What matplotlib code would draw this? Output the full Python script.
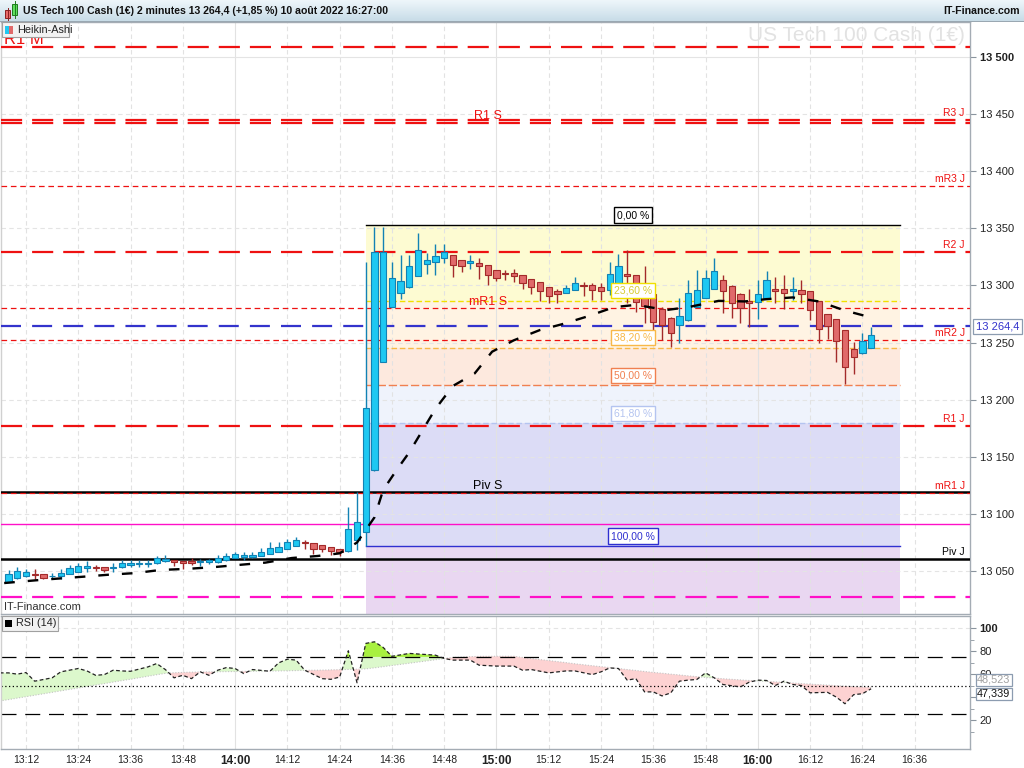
import numpy as np
import matplotlib
matplotlib.use("Agg")
import matplotlib.pyplot as plt
from matplotlib.patches import Rectangle

plt.rcParams['font.family'] = ['Liberation Sans', 'DejaVu Sans']


def mins(s):
    # minutes after 13:00
    h, m = s.split(':')
    return (int(h) - 13) * 60 + int(m)


# ---- Heikin-Ashi candles, 2 minute bars from 13:08 ----
first_bar = "13:08"
bar_step = 2
ha_open = [13040.7, 13043.6, 13045.9, 13047.1, 13047.1, 13045.5, 13045.9, 13047.1, 13049.4, 13052.3,
           13053.4, 13053.2, 13053.0, 13053.2, 13055.2, 13056.1, 13056.3, 13056.7, 13058.7, 13059.6,
           13058.7, 13058.7, 13057.9, 13057.9, 13057.9, 13059.6, 13061.1, 13062.5, 13062.7, 13063.4,
           13065.2, 13066.9, 13069.0, 13071.9, 13074.8, 13074.8, 13072.7, 13070.7, 13069.2, 13067.8,
           13077.1, 13084.4, 13138.4, 13233.1, 13281.2, 13293.8, 13298.2, 13308.1, 13319.1, 13320.6,
           13323.6, 13326.4, 13322.6, 13320.0, 13320.0, 13318.2, 13313.8, 13311.0, 13310.7, 13309.2,
           13305.7, 13302.8, 13298.4, 13295.5, 13293.8, 13296.1, 13300.2, 13300.2, 13298.2, 13296.4,
           13302.2, 13309.8, 13309.0, 13297.0, 13292.3, 13279.0, 13271.9, 13265.8, 13269.6, 13281.2,
           13289.4, 13297.3, 13305.2, 13299.6, 13292.1, 13286.5, 13285.1, 13289.1, 13296.7, 13296.7,
           13295.2, 13296.4, 13295.0, 13286.2, 13274.6, 13270.2, 13260.9, 13244.0, 13240.5, 13245.4]
ha_close = [13047.1, 13050.0, 13048.8, 13046.5, 13044.2, 13046.0, 13048.0, 13052.6, 13054.4, 13054.7,
            13053.0, 13050.9, 13053.4, 13056.7, 13057.3, 13057.3, 13056.9, 13061.1, 13060.8, 13057.9,
            13056.7, 13056.7, 13058.1, 13059.6, 13061.1, 13063.1, 13064.9, 13064.0, 13064.0, 13067.0,
            13069.8, 13071.3, 13075.7, 13077.1, 13074.6, 13069.2, 13069.0, 13067.5, 13066.9, 13086.5,
            13092.6, 13192.3, 13329.4, 13329.4, 13306.9, 13303.7, 13316.8, 13331.4, 13322.6, 13325.5,
            13329.7, 13318.2, 13317.1, 13321.0, 13317.1, 13308.9, 13306.9, 13310.0, 13308.6, 13302.2,
            13299.0, 13294.9, 13291.1, 13292.6, 13297.8, 13302.2, 13299.8, 13296.4, 13295.2, 13309.8,
            13316.8, 13308.1, 13285.6, 13282.0, 13267.6, 13265.2, 13258.5, 13273.4, 13293.8, 13296.4,
            13306.1, 13312.7, 13295.2, 13284.2, 13280.4, 13284.2, 13292.9, 13304.6, 13295.2, 13293.5,
            13296.7, 13292.1, 13278.3, 13262.3, 13264.3, 13251.5, 13228.2, 13237.0, 13251.2, 13256.5]
ha_high = [13050.9, 13053.2, 13051.5, 13051.5, 13047.5, 13048.5, 13051.5, 13055.2, 13056.7, 13058.7,
           13055.2, 13053.5, 13056.7, 13059.6, 13059.6, 13059.6, 13059.6, 13063.1, 13064.0, 13060.0,
           13059.0, 13061.1, 13060.2, 13060.2, 13064.0, 13065.5, 13066.9, 13066.9, 13066.9, 13069.8,
           13075.7, 13075.7, 13077.7, 13080.0, 13077.1, 13074.8, 13072.7, 13070.7, 13069.2, 13106.3,
           13118.8, 13320.6, 13351.2, 13351.2, 13320.6, 13326.4, 13326.4, 13346.0, 13328.5, 13336.7,
           13336.7, 13326.4, 13322.6, 13326.4, 13323.6, 13318.2, 13313.8, 13313.7, 13314.5, 13309.2,
           13305.7, 13302.8, 13298.4, 13297.0, 13300.2, 13307.5, 13303.0, 13301.8, 13301.8, 13320.6,
           13327.3, 13331.4, 13309.0, 13316.8, 13292.3, 13281.0, 13272.0, 13289.4, 13305.2, 13313.3,
           13313.3, 13324.4, 13309.0, 13300.0, 13293.5, 13297.3, 13305.2, 13312.5, 13307.0, 13309.0,
           13307.0, 13305.2, 13295.0, 13286.2, 13274.6, 13270.2, 13260.9, 13250.6, 13258.8, 13264.0]
ha_low = [13040.0, 13043.0, 13045.0, 13042.7, 13042.7, 13043.0, 13043.0, 13047.0, 13049.0, 13049.4,
          13050.3, 13049.1, 13049.4, 13053.0, 13053.8, 13053.8, 13053.2, 13056.0, 13058.0, 13054.4,
          13052.0, 13055.2, 13054.4, 13056.1, 13057.0, 13059.0, 13061.0, 13059.6, 13061.1, 13063.0,
          13065.0, 13066.9, 13069.0, 13071.9, 13069.2, 13064.9, 13066.9, 13064.0, 13063.1, 13066.9,
          13068.4, 13072.0, 13138.0, 13233.0, 13281.0, 13288.0, 13298.0, 13308.0, 13310.4, 13309.0,
          13320.0, 13307.5, 13311.8, 13314.0, 13305.7, 13300.2, 13304.0, 13305.2, 13302.9, 13296.7,
          13292.3, 13286.5, 13284.2, 13284.2, 13293.0, 13296.0, 13291.0, 13287.0, 13287.0, 13292.0,
          13300.0, 13284.2, 13276.9, 13266.7, 13252.1, 13252.0, 13246.3, 13249.2, 13269.0, 13281.0,
          13289.0, 13297.0, 13276.0, 13271.6, 13267.2, 13263.8, 13270.5, 13289.0, 13284.7, 13279.8,
          13287.1, 13284.2, 13269.6, 13249.8, 13252.7, 13233.1, 13213.6, 13222.4, 13240.0, 13245.0]

# ---- moving average overlay (black dashed) ----
ma_time = ["13:07", "13:14", "13:19", "13:25", "13:31", "13:37", "13:43", "13:49", "13:55", "14:01",
           "14:07", "14:13", "14:19", "14:24", "14:28", "14:32", "14:34", "14:37", "14:40", "14:43",
           "14:46", "14:50", "14:55", "14:59", "15:04", "15:10", "15:15", "15:21", "15:27", "15:32",
           "15:39", "15:44", "15:51", "15:57", "16:02", "16:08", "16:14", "16:20", "16:25"]
ma_value = [13039.5, 13041.8, 13043.3, 13045.0, 13046.8, 13048.2, 13051.0, 13051.9, 13053.4, 13055.4,
            13057.4, 13061.4, 13063.2, 13065.5, 13075.0, 13097.0, 13121.0, 13138.0, 13154.0, 13173.0,
            13192.0, 13212.0, 13223.0, 13242.0, 13252.0, 13261.0, 13266.0, 13273.0, 13281.0, 13283.0,
            13278.5, 13281.0, 13286.5, 13286.0, 13288.0, 13289.5, 13286.0, 13278.0, 13273.0]

# ---- pivot levels ----
level_name = ["R1 M", "R3 J", "R1 S", "mR3 J", "R2 J", "mR1 S", "mR2 J", "R1 J", "Piv S", "mR1 J", "Piv J"]
level_price = [13508.7, 13444.9, 13442.6, 13387.1, 13329.4, 13280.0, 13252.4, 13177.2, 13118.8, 13118.0, 13060.5]
magenta_solid = 13091.0
magenta_dashed = 13027.0
last_price = 13264.4

# ---- fibonacci retracement ----
fib_start, fib_end = "14:30", "16:33"
fib_high, fib_low = 13353.0, 13072.0
fib_ratio = [0.0, 0.236, 0.382, 0.5, 0.618, 1.0]
fib_label = ["0,00 %", "23,60 %", "38,20 %", "50,00 %", "61,80 %", "100,00 %"]
fib_line_color = ["#000000", "#f0e000", "#f8b848", "#f08050", "#b4c4f0", "#3030d0"]
fib_fill_color = ["#fdfbd2", "#fff3e3", "#fde9de", "#eff3fc", "#dcdcf6", "#e9d7f1"]

# ---- RSI (14) and its signal ----
rsi_time = ["13:06", "13:08", "13:10", "13:12", "13:14", "13:18", "13:20", "13:24", "13:26", "13:28",
            "13:30", "13:32", "13:34", "13:36", "13:40", "13:42", "13:44", "13:46", "13:48", "13:50",
            "13:52", "13:54", "13:56", "13:58", "14:00", "14:02", "14:04", "14:08", "14:10", "14:12",
            "14:14", "14:16", "14:20", "14:22", "14:24", "14:26", "14:28", "14:30", "14:32", "14:34",
            "14:36", "14:40", "14:46", "14:48", "14:50", "14:54", "14:56", "15:00", "15:04", "15:06",
            "15:08", "15:12", "15:16", "15:18", "15:22", "15:24", "15:26", "15:28", "15:30", "15:32",
            "15:34", "15:36", "15:38", "15:40", "15:42", "15:44", "15:46", "15:48", "15:50", "15:52",
            "15:56", "15:58", "16:00", "16:02", "16:04", "16:06", "16:08", "16:10", "16:12", "16:16",
            "16:18", "16:20", "16:22", "16:24", "16:26"]
rsi_value = [61.1, 61.1, 60.0, 61.4, 53.9, 56.8, 62.0, 64.9, 62.8, 59.0,
             59.6, 63.4, 62.8, 62.5, 66.3, 69.2, 64.0, 56.8, 59.0, 56.1,
             62.0, 59.0, 63.4, 65.7, 64.9, 60.5, 64.0, 62.5, 69.8, 73.0,
             72.2, 63.4, 56.1, 55.5, 57.5, 80.3, 52.5, 86.7, 88.1, 83.2,
             75.5, 78.0, 76.5, 73.6, 72.2, 72.2, 67.8, 67.0, 67.0, 63.4,
             64.0, 61.1, 62.8, 62.8, 59.6, 62.0, 65.4, 64.9, 54.8, 56.1,
             44.6, 44.6, 41.1, 43.7, 53.9, 54.8, 55.4, 61.1, 56.8, 51.0,
             48.9, 53.0, 54.8, 54.5, 50.1, 53.9, 51.0, 50.1, 43.8, 44.2,
             40.1, 34.3, 42.2, 43.0, 47.3]
rsi_signal = [36.7, 37.9, 39.2, 40.4, 41.7, 44.2, 45.5, 48.0, 49.3, 50.6,
              51.8, 53.1, 54.4, 55.6, 58.2, 59.5, 60.7, 61.2, 61.5, 61.7,
              61.9, 62.0, 62.1, 62.2, 62.3, 62.4, 62.5, 62.7, 62.8, 63.0,
              63.1, 63.3, 63.5, 63.7, 63.9, 64.1, 64.3, 64.6, 65.5, 66.5,
              67.5, 69.5, 72.5, 73.6, 74.5, 75.2, 75.4, 75.5, 75.5, 74.5,
              73.5, 71.8, 70.0, 69.0, 67.3, 66.5, 65.7, 64.9, 64.0, 63.2,
              62.3, 61.5, 60.8, 60.0, 59.3, 58.5, 57.8, 57.2, 56.6, 56.0,
              55.0, 54.5, 54.1, 53.7, 53.3, 52.8, 52.3, 51.8, 51.3, 50.5,
              50.0, 49.6, 49.2, 48.8, 48.5]
rsi_last, signal_last = "47,339", "48,523"

time_ticks = ["13:12", "13:24", "13:36", "13:48", "14:00", "14:12", "14:24", "14:36", "14:48",
              "15:00", "15:12", "15:24", "15:36", "15:48", "16:00", "16:12", "16:24", "16:36"]
price_ticks = [13050, 13100, 13150, 13200, 13250, 13300, 13350, 13400, 13450, 13500]
rsi_ticks = [20, 40, 60, 80, 100]

title = "US Tech 100 Cash (1€) 2 minutes 13 264,4 (+1,85 %) 10 août 2022 16:27:00"

# ---------------------------------------------------------------
W, H = 1024, 768


def fx(x):
    return x / W


def fy(y):
    return 1 - y / H


fig = plt.figure(figsize=(10.24, 7.68), dpi=100)
fig.patch.set_facecolor('white')

ax = fig.add_axes([fx(1), fy(614), 969 / W, 592 / H])
rx = fig.add_axes([fx(1), fy(749), 969 / W, 133 / H])

xlim = (6.27, 228.7)
for a in (ax, rx):
    a.set_xlim(*xlim)
    for s in a.spines.values():
        s.set_color('#a4acb4')
        s.set_linewidth(1.0)
    a.spines['left'].set_color('#d0d0d0')
ax.set_ylim(13012.4, 13530.6)
rx.set_ylim(-5.0, 110.5)

# grid
for s in time_ticks:
    hour = s.endswith(':00')
    for a in (ax, rx):
        a.axvline(mins(s), color='#e2e2e2', lw=0.8, ls='-' if hour else (0, (4, 3)), zorder=0.6)
for p in price_ticks:
    ax.axhline(p, color='#e4e4e4', lw=0.8, ls='-' if p == 13500 else (0, (4, 3)), zorder=0.6)
rx.axhline(100, color='#e4e4e4', lw=0.8, ls=(0, (4, 3)), zorder=0.6)

# fibonacci zones
f0, f1 = mins(fib_start), mins(fib_end) - 0.3
fib_price = [fib_high - r * (fib_high - fib_low) for r in fib_ratio]
bounds = fib_price + [12900.0]
for i in range(len(fib_fill_color)):
    ax.fill_between([f0, f1], bounds[i + 1], bounds[i], color=fib_fill_color[i], lw=0, zorder=0.5)
fib_ls = ['-', (0, (4, 2)), (0, (4, 2)), (0, (6, 2)), (0, (4, 2)), '-']
for i, p in enumerate(fib_price):
    ax.plot([f0, f1], [p, p], color=fib_line_color[i], lw=1.0, ls=fib_ls[i], zorder=2)
    tc = fib_line_color[i]
    if i == 1:
        tc = '#d8cc30'
    ax.annotate(fib_label[i], ((f0 + f1) / 2, p), xytext=(0, 3.5), textcoords='offset points',
                ha='center', va='bottom', fontsize=7.5, color=tc, zorder=9,
                bbox=dict(boxstyle='square,pad=0.25', fc='white', ec=fib_line_color[i], lw=1.0))

# watermark
ax.text(0.995, 0.993, "US Tech 100 Cash (1€)", transform=ax.transAxes, ha='right', va='top',
        fontsize=15, color='#e2e2e2', zorder=0.7)

# pivot levels
thick = (0, (9.5, 4.5))
for name, p in zip(level_name, level_price):
    if name.startswith('Piv'):
        ax.axhline(p, color='black', lw=1.8, zorder=3)
        col = 'black'
    elif name.startswith('mR'):
        ax.axhline(p, color='#ee1111', lw=0.9, ls=(0, (4.5, 3)), zorder=3)
        col = '#ee1111'
    else:
        ax.axhline(p, color='#ee1111', lw=1.6, ls=thick, zorder=3)
        col = '#ee1111'
    if name.endswith('J'):
        ax.annotate(name, (xlim[1] - 1.2, p), xytext=(0, 1.5), textcoords='offset points',
                    ha='right', va='bottom', fontsize=7.5, color=col, zorder=4)
    elif name.endswith('S'):
        ax.annotate(name, (118, p), xytext=(0, 0.5), textcoords='offset points',
                    ha='center', va='bottom', fontsize=9, color=col, zorder=4)
    else:
        ax.annotate(name, (xlim[0] + 0.8, p), xytext=(0, 0), textcoords='offset points',
                    ha='left', va='bottom', fontsize=12, color=col, zorder=4)
ax.axhline(magenta_solid, color='#ff10c8', lw=1.0, zorder=3)
ax.axhline(magenta_dashed, color='#ff10c8', lw=1.6, ls=thick, zorder=3)
ax.axhline(last_price, color='#3333cc', lw=1.6, ls=(0, (9, 5)), zorder=3)

# candles
t0 = mins(first_bar)
for k in range(len(ha_open)):
    t = t0 + k * bar_step
    o, c, h, l = ha_open[k], ha_close[k], ha_high[k], ha_low[k]
    if c >= o:
        fc, ec = '#1ec8f2', '#1282b4'
    else:
        fc, ec = '#e06a6a', '#a32a2a'
    ax.plot([t, t], [l, h], color=ec, lw=1.0, zorder=5, solid_capstyle='butt')
    ax.add_patch(Rectangle((t - 0.72, min(o, c)), 1.44, max(abs(c - o), 0.5),
                           fc=fc, ec=ec, lw=0.8, zorder=6))

# moving average
ax.plot([mins(s) for s in ma_time], ma_value, color='black', lw=1.7, ls=(0, (4.5, 5.5)),
        zorder=7, dash_capstyle='butt')

# axes ticks: main
ax.yaxis.tick_right()
ax.set_yticks(price_ticks)
ax.set_yticklabels([f"{p:,}".replace(',', ' ') for p in price_ticks])
ax.tick_params(axis='y', length=4, color='#8a949e', labelsize=8, pad=3, labelcolor='#222222')
ax.tick_params(axis='x', length=0, labelbottom=False)
for lab, p in zip(ax.get_yticklabels(), price_ticks):
    if p == 13500:
        lab.set_fontweight('bold')

ax.text(0.003, 0.003, "IT-Finance.com", transform=ax.transAxes, ha='left', va='bottom',
        fontsize=8, color='#333333', zorder=9)

# RSI pane
rt = np.array([mins(s) for s in rsi_time], dtype=float)
rv = np.array(rsi_value)
rs = np.array(rsi_signal)
rx.fill_between(rt, rs, rv, where=rv >= rs, interpolate=True, color='#dcf8cc', lw=0, zorder=1)
rx.fill_between(rt, rs, rv, where=rv < rs, interpolate=True, color='#fdd2d2', lw=0, zorder=1)
rx.fill_between(rt, 75, rv, where=rv > 75, interpolate=True, color='#a8f040', lw=0, zorder=1.2)
rx.plot(rt, rs, color='#c4c4c4', lw=0.8, ls=(0, (1, 1.5)), zorder=2)
rx.plot(rt, rv, color='#222222', lw=0.9, ls=(0, (3, 2)), zorder=3)
rx.axhline(75, color='black', lw=0.9, ls=(0, (12, 7)), zorder=2)
rx.axhline(25, color='black', lw=0.9, ls=(0, (12, 7)), zorder=2)
rx.axhline(50, color='black', lw=0.9, ls=(0, (1, 2)), zorder=2)

rx.yaxis.tick_right()
rx.set_yticks(rsi_ticks)
# the 40 label sits behind the value boxes in the original
rx.set_yticklabels(['' if v == 40 else str(v) for v in rsi_ticks])
rx.set_yticks([10, 30, 50, 70, 90], minor=True)
rx.tick_params(axis='y', which='both', length=4, color='#8a949e', labelsize=8, pad=3, labelcolor='#222222')
rx.tick_params(axis='y', which='minor', length=3)
for lab, v in zip(rx.get_yticklabels(), rsi_ticks):
    if v == 100:
        lab.set_fontweight('bold')

rx.set_xticks([mins(s) for s in time_ticks])
rx.set_xticklabels(time_ticks)
rx.tick_params(axis='x', length=0, labelsize=7.5, pad=4, labelcolor='#222222')
for lab, s in zip(rx.get_xticklabels(), time_ticks):
    if s.endswith(':00'):
        lab.set_fontweight('bold')
        lab.set_fontsize(8.5)

# ---- figure-level decorations ----
# title bar
tb = fig.add_axes([0, fy(22), 1, 22 / H])
grad = np.linspace(0, 1, 32).reshape(-1, 1)
tb.imshow(grad, aspect='auto', cmap=matplotlib.colors.LinearSegmentedColormap.from_list(
    'tb', ['#eef6fa', '#c6dbe7']), extent=(0, 1, 0, 1))
tb.set_xlim(0, 1)
tb.set_ylim(0, 1)
tb.axis('off')
tb.add_patch(Rectangle((0, 0), 1, 0.04, fc='#9aa8b2', ec='none'))
tb.add_patch(Rectangle((5 / W, 0.18), 5 / W, 0.36, fc='#e86a6a', ec='#8a2020', lw=0.7))
tb.plot([7.5 / W, 7.5 / W], [0.1, 0.62], color='#8a2020', lw=0.7)
tb.add_patch(Rectangle((12 / W, 0.3), 5 / W, 0.5, fc='#5ee05e', ec='#207a20', lw=0.7))
tb.plot([14.5 / W, 14.5 / W], [0.2, 0.95], color='#207a20', lw=0.7)
fig.text(fx(23), fy(11.5), title, ha='left', va='center', fontsize=7.6, fontweight='bold', color='#111111')
fig.text(fx(1020), fy(11.5), "IT-Finance.com", ha='right', va='center', fontsize=7.6,
         fontweight='bold', color='#111111')

# legend tags
fig.patches.append(Rectangle((fx(2), fy(37)), 67 / W, 15 / H, fc='#f2f2f2', ec='#a0a0a0', lw=0.8,
                             transform=fig.transFigure, figure=fig, zorder=5))
fig.patches.append(Rectangle((fx(5), fy(34)), 4 / W, 8 / H, fc='#1ec8f2', ec='none',
                             transform=fig.transFigure, figure=fig, zorder=6))
fig.patches.append(Rectangle((fx(9), fy(34)), 4 / W, 8 / H, fc='#e06a6a', ec='none',
                             transform=fig.transFigure, figure=fig, zorder=6))
fig.text(fx(17), fy(30), "Heikin-Ashi", ha='left', va='center', fontsize=7.8, color='#222222', zorder=7)

fig.patches.append(Rectangle((fx(2), fy(631)), 56 / W, 15 / H, fc='#f2f2f2', ec='#a0a0a0', lw=0.8,
                             transform=fig.transFigure, figure=fig, zorder=5))
fig.patches.append(Rectangle((fx(5), fy(627)), 7 / W, 7 / H, fc='black', ec='none',
                             transform=fig.transFigure, figure=fig, zorder=6))
fig.text(fx(16), fy(623.5), "RSI (14)", ha='left', va='center', fontsize=7.8, color='#222222', zorder=7)

# value boxes on the right
fig.text(fx(976), fy(326.5), "13 264,4", ha='left', va='center', fontsize=8, color='#3333cc', zorder=8,
         bbox=dict(boxstyle='square,pad=0.25', fc='white', ec='#8c9cb0', lw=0.9))
fig.text(fx(977), fy(680), signal_last, ha='left', va='center', fontsize=7.8, color='#a0a0a0', zorder=8,
         bbox=dict(boxstyle='square,pad=0.12', fc='white', ec='#8c9cb0', lw=0.9))
fig.text(fx(977), fy(694), rsi_last, ha='left', va='center', fontsize=7.8, color='#111111', zorder=8,
         bbox=dict(boxstyle='square,pad=0.12', fc='white', ec='#8c9cb0', lw=0.9))

fig.savefig("out.png", dpi=100)
